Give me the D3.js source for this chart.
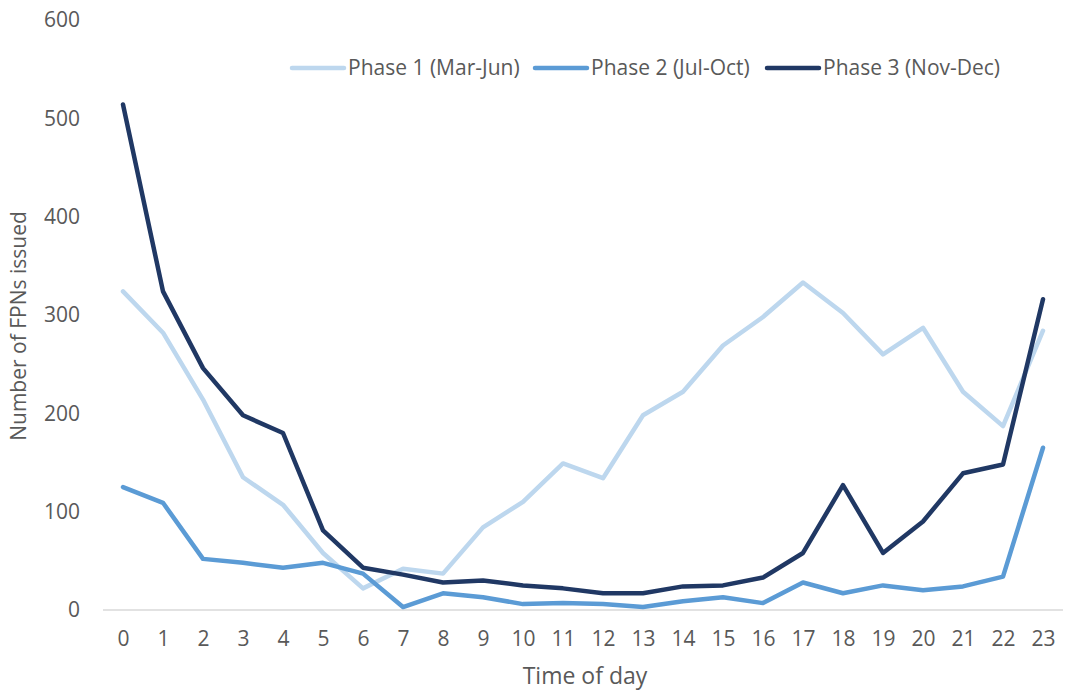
<!DOCTYPE html>
<html>
<head>
<meta charset="utf-8">
<script src="https://cdn.jsdelivr.net/npm/d3@7"></script>
<style>
  body { margin: 0; background: #fff; }
  text { font-family: "Open Sans", sans-serif; fill: #595959; }
</style>
</head>
<body>
<div id="chart"></div>
<script>
const width = 1067;
const height = 693;

// Data
const hours = d3.range(0, 24).map(String);
const phase1 = [324, 282, 214, 135, 107, 58, 22, 42, 37, 84, 110, 149, 134, 198, 222, 269, 298, 333, 302, 260, 287, 222, 187, 284];
const phase2 = [125, 109, 52, 48, 43, 48, 37, 3, 17, 13, 6, 7, 6, 3, 9, 13, 7, 28, 17, 25, 20, 24, 34, 165];
const phase3 = [514, 324, 246, 198, 180, 81, 43, 36, 28, 30, 25, 22, 17, 17, 24, 25, 33, 58, 127, 58, 90, 139, 148, 316];
const seriesNames = ["Phase 1 (Mar-Jun)", "Phase 2 (Jul-Oct)", "Phase 3 (Nov-Dec)"];
const yTicks = [0, 100, 200, 300, 400, 500, 600];

const series = [
  { name: seriesNames[0], values: phase1, color: "#BDD7EE" },
  { name: seriesNames[1], values: phase2, color: "#5B9BD5" },
  { name: seriesNames[2], values: phase3, color: "#203864" }
];

const svg = d3.select("#chart")
  .append("svg")
  .attr("width", width)
  .attr("height", height);

// Scales
const x = d3.scalePoint()
  .domain(hours)
  .range([123, 1043]);

const y = d3.scaleLinear()
  .domain([0, 600])
  .range([610, 20]);

// X axis
const xAxis = svg.append("g")
  .attr("transform", `translate(0,${y(0)})`)
  .call(d3.axisBottom(x).tickSize(0).tickPadding(21));
xAxis.select(".domain").remove();
xAxis.selectAll("text")
  .style("font-size", "21px")
  .attr("fill", "#595959");

svg.append("line")
  .attr("x1", 103)
  .attr("x2", 1063)
  .attr("y1", y(0))
  .attr("y2", y(0))
  .attr("stroke", "#D9D9D9")
  .attr("stroke-width", 1.5);

// Y axis
const yAxis = svg.append("g")
  .attr("transform", "translate(80,0)")
  .call(d3.axisLeft(y).tickValues(yTicks).tickSize(0).tickPadding(0));
yAxis.select(".domain").remove();
yAxis.selectAll("text")
  .style("font-size", "21px")
  .attr("fill", "#595959");

// Axis titles
svg.append("text")
  .attr("x", 585)
  .attr("y", 684)
  .attr("text-anchor", "middle")
  .style("font-size", "23px")
  .text("Time of day");

svg.append("text")
  .attr("transform", "translate(26,326) rotate(-90)")
  .attr("text-anchor", "middle")
  .style("font-size", "21px")
  .text("Number of FPNs issued");

// Lines
const line = d3.line()
  .x((d, i) => x(hours[i]))
  .y(d => y(d));

svg.selectAll(".series")
  .data(series)
  .enter().append("path")
  .attr("class", "series")
  .attr("d", d => line(d.values))
  .attr("fill", "none")
  .attr("stroke", d => d.color)
  .attr("stroke-width", 4.5)
  .attr("stroke-linejoin", "round")
  .attr("stroke-linecap", "round");

// Legend
const legendX = [290, 533, 765];
const legend = svg.selectAll(".legend-item")
  .data(series)
  .enter().append("g")
  .attr("class", "legend-item")
  .attr("transform", (d, i) => `translate(${legendX[i]},68)`);

legend.append("line")
  .attr("x1", 2)
  .attr("x2", 54)
  .attr("stroke", d => d.color)
  .attr("stroke-width", 4.5)
  .attr("stroke-linecap", "round");

legend.append("text")
  .attr("x", 58)
  .attr("dy", "0.35em")
  .style("font-size", "21px")
  .text(d => d.name);
</script>
</body>
</html>
